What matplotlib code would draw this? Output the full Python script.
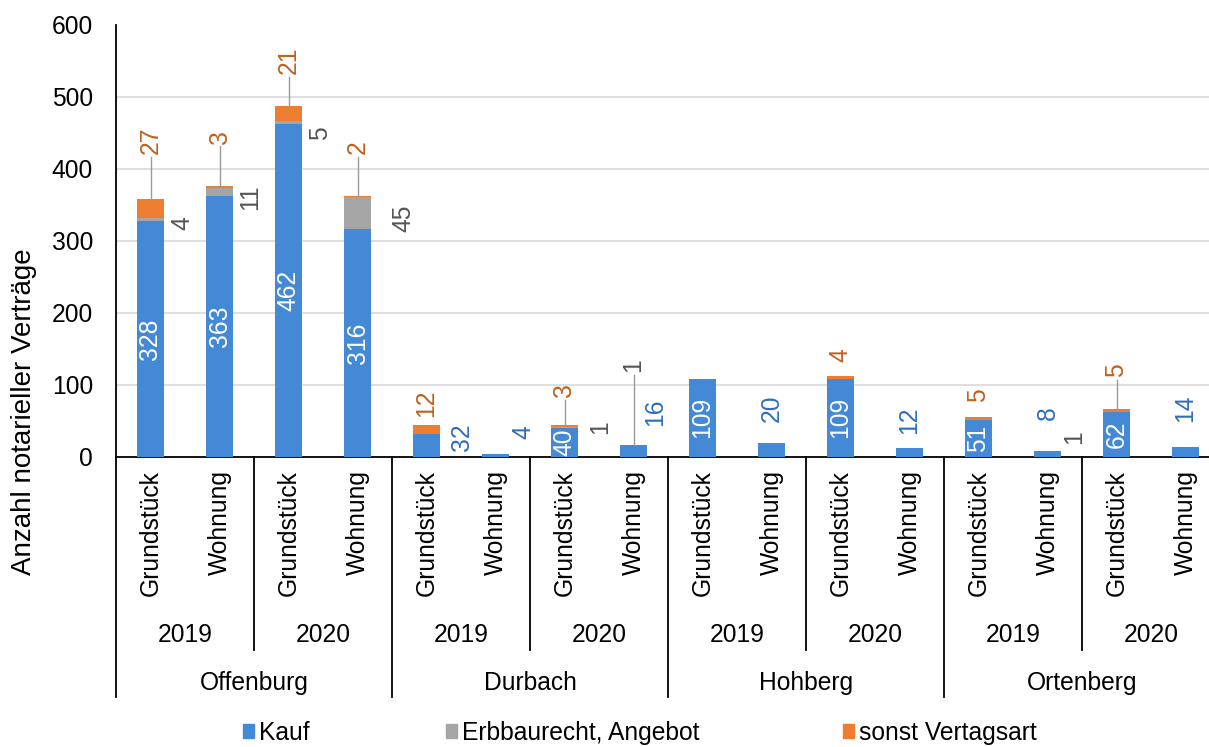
import matplotlib
matplotlib.use('Agg')
import matplotlib.pyplot as plt
from matplotlib.patches import Patch

plt.rcParams['font.family'] = ['Liberation Sans', 'DejaVu Sans']

# ---------------- data ----------------
cities = ['Offenburg', 'Durbach', 'Hohberg', 'Ortenberg']
years = ['2019', '2020']
types = ['Grundstück', 'Wohnung']
series_names = ['Kauf', 'Erbbaurecht, Angebot', 'sonst Vertagsart']
kauf = [328, 363, 462, 316, 32, 4, 40, 16, 109, 20, 109, 12, 51, 8, 62, 14]
erbbau = [4, 11, 5, 45, 0, 0, 1, 1, 0, 0, 0, 0, 0, 1, 0, 0]
sonst = [27, 3, 21, 2, 12, 0, 3, 0, 0, 0, 4, 0, 5, 0, 5, 0]
yticks = [0, 100, 200, 300, 400, 500, 600]

# ------------- label layout (annotation placement) -------------
# labels outside the bar: index -> (x offset in slots, y centre)
kauf_out = {4: (0.51, 28), 5: (0.40, 35), 7: (0.31, 62), 9: (0, 68),
            11: (0, 51), 13: (0, 61), 15: (0, 68)}
erb_out = {0: (0.46, 325), 1: (0.44, 361), 2: (0.45, 450), 3: (0.66, 332),
           6: (0.52, 42), 13: (0.38, 28), 7: (0, 128)}
sonst_out = {0: 440, 1: 445, 2: 551, 3: 430, 4: 75, 6: 93, 10: 142,
             12: 86, 14: 121}
legend_x_px = [243, 446, 843]

C_KAUF = '#4389D6'
C_ERB = '#A5A5A5'
C_SONST = '#ED7D31'
T_KAUF = '#2E6FB7'
T_ERB = '#555555'
T_SONST = '#C0601C'
FS = 17.7

W, H = 1209, 747
fig = plt.figure(figsize=(W / 100, H / 100), dpi=100)
ax_l, ax_r, ax_b, ax_t = 116, 1220, 457, 25
ax = fig.add_axes([ax_l / W, (H - ax_b) / H, (ax_r - ax_l) / W, (ax_b - ax_t) / H])

n = len(kauf)
x = list(range(n))
bw = 0.39
bottoms2 = [k + e for k, e in zip(kauf, erbbau)]
ax.bar(x, kauf, bw, color=C_KAUF, zorder=3)
ax.bar(x, erbbau, bw, bottom=kauf, color=C_ERB, zorder=3)
ax.bar(x, sonst, bw, bottom=bottoms2, color=C_SONST, zorder=3)

ax.set_xlim(-0.5, n - 0.5)
ax.set_ylim(0, 600)
ax.set_yticks(yticks)
ax.tick_params(axis='y', length=0, pad=16.5, labelsize=FS)
ax.set_xticks([])
for v in yticks[1:-1]:
    ax.axhline(v, color='#D9D9D9', lw=1.2, zorder=1)
for s in ['top', 'right']:
    ax.spines[s].set_visible(False)
ax.spines['left'].set_color('black')
ax.spines['left'].set_linewidth(1.3)
ax.spines['bottom'].set_color('black')
ax.spines['bottom'].set_linewidth(1.3)

upp = 600 / (ax_b - ax_t)


def half_len(txt):
    return len(txt) * 0.556 * 24.6 / 2 * upp


def top_label(i, yc, txt, color):
    top = kauf[i] + erbbau[i] + sonst[i]
    end = yc - half_len(txt) - 4
    if end - top > 25:
        ax.plot([i, i], [top, end], color='#9A9A9A', lw=1.0, zorder=4)
    ax.text(i, yc, txt, rotation=90, ha='center', va='center',
            color=color, fontsize=FS, zorder=5)


for i in range(n):
    if i in kauf_out:
        dx, yc = kauf_out[i]
        ax.text(i + dx, yc, str(kauf[i]), rotation=90, ha='center', va='center',
                color=T_KAUF, fontsize=FS, zorder=5)
    else:
        ax.text(i, kauf[i] / 2, str(kauf[i]), rotation=90, ha='center', va='center',
                color='white', fontsize=FS, zorder=5)
    if erbbau[i] > 0 and i in erb_out:
        dx, yc = erb_out[i]
        if dx == 0:
            top_label(i, yc, str(erbbau[i]), T_ERB)
        else:
            ax.text(i + dx, yc, str(erbbau[i]), rotation=90, ha='center', va='center',
                    color=T_ERB, fontsize=FS, zorder=5)
    if sonst[i] > 0 and i in sonst_out:
        top_label(i, sonst_out[i], str(sonst[i]), T_SONST)

# ------------- multi-level category axis -------------
tr = ax.get_xaxis_transform()


def ay(px):
    return (ax_b - px) / (ax_b - ax_t)


for i in range(n):
    ax.text(i, ay(470), types[i % 2], rotation=90, ha='center', va='top',
            fontsize=FS, transform=tr, color='black')
for g in range(n // 2):
    ax.text(2 * g + 0.5, ay(635), years[g % 2], ha='center', va='center',
            fontsize=FS, transform=tr, color='black')
for c in range(len(cities)):
    ax.text(4 * c + 1.5, ay(683), cities[c], ha='center', va='center',
            fontsize=FS, transform=tr, color='black')
for c in range(len(cities)):
    xs = 4 * c - 0.5
    ax.plot([xs, xs], [0, ay(697)], color='black', lw=1.3, transform=tr, clip_on=False)
    xy = 4 * c + 1.5
    ax.plot([xy, xy], [0, ay(650)], color='black', lw=1.3, transform=tr, clip_on=False)

fig.text(24 / W, (H - 412) / H, 'Anzahl notarieller Verträge', rotation=90,
         ha='center', va='center', fontsize=20)

colors = [C_KAUF, C_ERB, C_SONST]
for name, col, lx in zip(series_names, colors, legend_x_px):
    leg = fig.legend([Patch(color=col)], [name], loc='center left',
                     bbox_to_anchor=(lx / W, 0.019), frameon=False,
                     handlelength=0.45, handleheight=0.45, handletextpad=0.2,
                     fontsize=FS, borderaxespad=0, borderpad=0)

fig.savefig('out.png', dpi=100)
